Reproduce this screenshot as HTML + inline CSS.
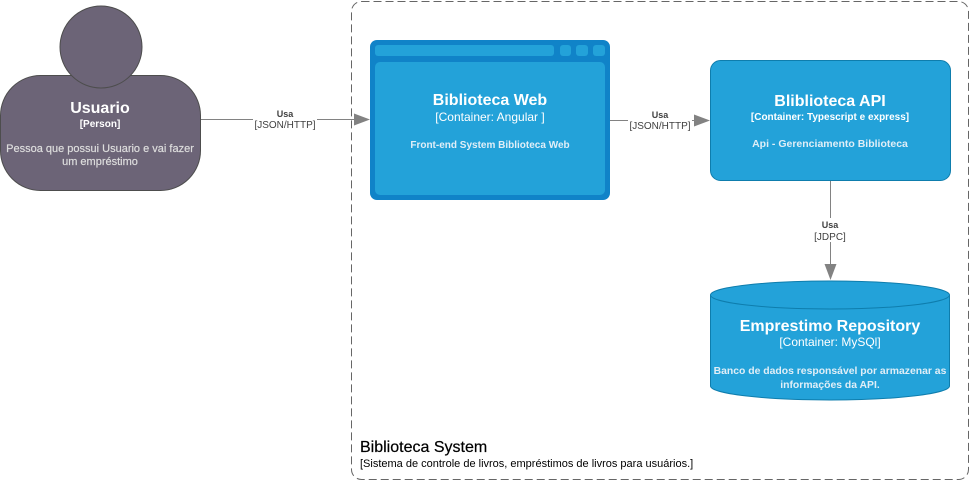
<!DOCTYPE html>
<html><head><meta charset="utf-8"><style>
html,body{margin:0;padding:0;background:#fff;}
svg{display:block;font-family:"Liberation Sans",Arial,sans-serif;}
</style></head><body>
<svg width="971" height="481" viewBox="0 0 971 481" xmlns="http://www.w3.org/2000/svg">
<rect x="351.5" y="1.5" width="617" height="478" rx="10" fill="none" stroke="#666" stroke-dasharray="8,4" stroke-width="1"/>
<text x="360" y="452" font-size="16" fill="#000" stroke="#000" stroke-width="0.2">Biblioteca System</text>
<text x="360" y="467" font-size="11" fill="#000">[Sistema de controle de livros, empréstimos de livros para usuários.]</text>

<rect x="0.5" y="75.5" width="200" height="115" rx="40" fill="#6C6477" stroke="#4D4D4D"/>
<circle cx="101" cy="47" r="41" fill="#6C6477" stroke="#4D4D4D"/>
<text x="100" y="113" font-size="16" font-weight="bold" fill="#fff" text-anchor="middle">Usuario</text>
<text x="100" y="127" font-size="10" font-weight="bold" fill="#fff" text-anchor="middle">[Person]</text>
<text x="100" y="152" font-size="11" fill="#ddd" text-anchor="middle" stroke="#ddd" stroke-width="0.2">Pessoa que possui Usuario e vai fazer</text>
<text x="100" y="165" font-size="11" fill="#ddd" text-anchor="middle" stroke="#ddd" stroke-width="0.2">um empréstimo</text>

<line x1="201" y1="119.5" x2="358" y2="119.5" stroke="#828282"/>
<polygon points="370,119.5 354,113.5 354,125.5" fill="#828282"/>
<rect x="253" y="108" width="64" height="22" fill="#fff"/>
<text x="285" y="117" font-size="9" font-weight="bold" fill="#404040" text-anchor="middle">Usa</text>
<text x="285" y="128" font-size="10" fill="#404040" text-anchor="middle">[JSON/HTTP]</text>

<rect x="370" y="40" width="240" height="160" rx="7" fill="#1083C8"/>
<rect x="375" y="45" width="179" height="11" rx="3" fill="#23A2D9"/>
<rect x="560" y="45" width="11" height="11" rx="3" fill="#23A2D9"/>
<rect x="576" y="45" width="12" height="11" rx="3" fill="#23A2D9"/>
<rect x="593" y="45" width="12" height="11" rx="3" fill="#23A2D9"/>
<rect x="375" y="62" width="230" height="133" rx="5" fill="#23A2D9"/>
<text x="490" y="105" font-size="16" font-weight="bold" fill="#fff" text-anchor="middle">Biblioteca Web</text>
<text x="490" y="121" font-size="12" fill="#fff" text-anchor="middle">[Container: Angular ]</text>
<text x="490" y="148" font-size="10" font-weight="bold" fill="#E0EEF7" text-anchor="middle">Front-end System Biblioteca Web</text>

<line x1="610" y1="120.5" x2="698" y2="120.5" stroke="#828282"/>
<polygon points="710,120.5 694,114.5 694,126.5" fill="#828282"/>
<rect x="628" y="109" width="64" height="22" fill="#fff"/>
<text x="660" y="118" font-size="9" font-weight="bold" fill="#404040" text-anchor="middle">Usa</text>
<text x="660" y="129" font-size="10" fill="#404040" text-anchor="middle">[JSON/HTTP]</text>

<rect x="710.5" y="60.5" width="240" height="120" rx="10" fill="#23A2D9" stroke="#0E7DAD"/>
<text x="830" y="106" font-size="16" font-weight="bold" fill="#fff" text-anchor="middle">Bliblioteca API</text>
<text x="830" y="120" font-size="10" font-weight="bold" fill="#fff" text-anchor="middle">[Container: Typescript e express]</text>
<text x="830" y="147" font-size="10.5" font-weight="bold" fill="#E0EEF7" text-anchor="middle">Api - Gerenciamento Biblioteca</text>

<line x1="830.5" y1="181" x2="830.5" y2="268" stroke="#828282"/>
<polygon points="830.5,280 824.5,264 836.5,264" fill="#828282"/>
<rect x="812" y="218" width="38" height="24" fill="#fff"/>
<text x="830" y="228" font-size="9" font-weight="bold" fill="#404040" text-anchor="middle">Usa</text>
<text x="830" y="240" font-size="10" fill="#404040" text-anchor="middle">[JDPC]</text>

<path d="M710.5,295 L710.5,386 A119.5,14 0 0 0 949.5,386 L949.5,295" fill="#23A2D9" stroke="#0E7DAD"/>
<ellipse cx="830" cy="295" rx="119.5" ry="14" fill="#23A2D9" stroke="#0E7DAD"/>
<text x="830" y="331" font-size="16" font-weight="bold" fill="#fff" text-anchor="middle">Emprestimo Repository</text>
<text x="830" y="346" font-size="12" fill="#fff" text-anchor="middle">[Container: MySQl]</text>
<text x="830" y="374" font-size="10.4" font-weight="bold" fill="#E0EEF7" text-anchor="middle">Banco de dados responsável por armazenar as</text>
<text x="830" y="388" font-size="10.4" font-weight="bold" fill="#E0EEF7" text-anchor="middle">informações da API.</text>
</svg>
</body></html>
